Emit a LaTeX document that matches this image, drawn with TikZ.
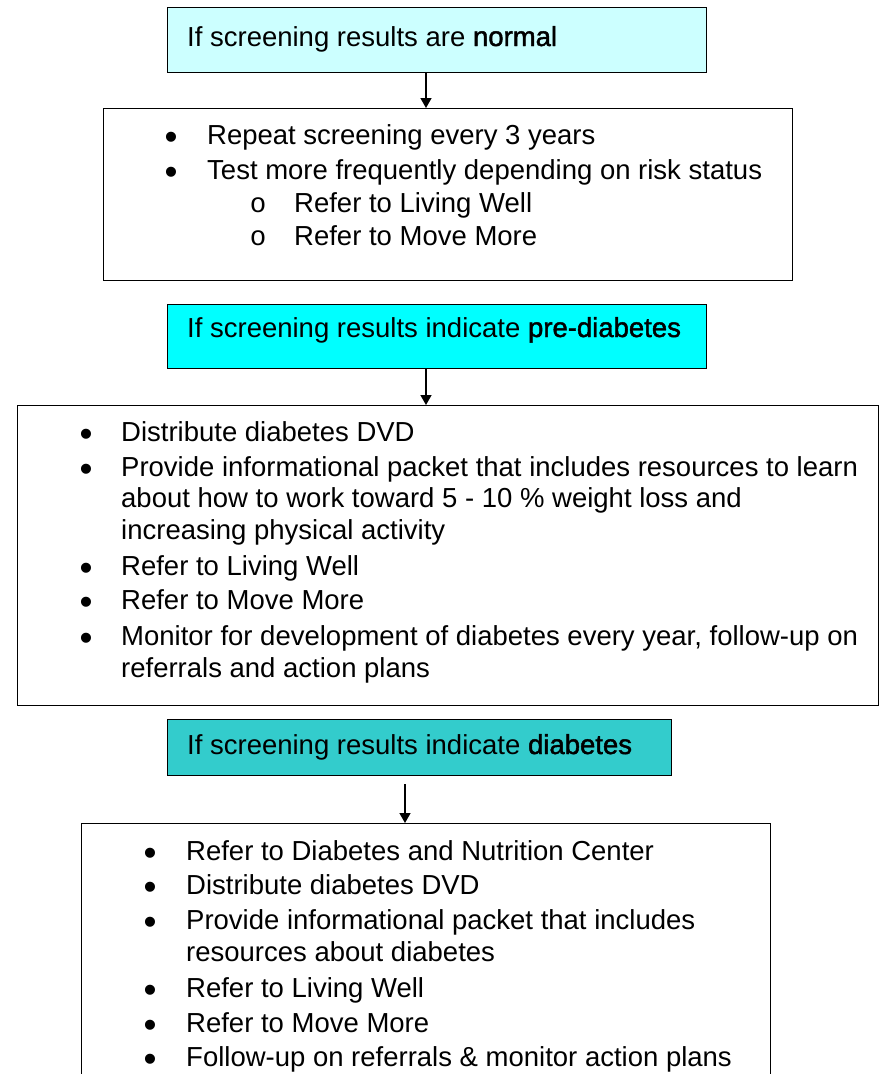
\documentclass[tikz,border=0pt]{standalone}
\usepackage{fontspec}
\setmainfont{Liberation Sans}
\newfontfamily\demi{Liberation Sans}[FakeBold=1.6]
\newfontfamily\circfont{Liberation Mono}
\usetikzlibrary{arrows.meta, positioning}
\definecolor{paleaqua}{HTML}{CCFFFF}
\definecolor{aqua}{HTML}{00FFFF}
\definecolor{tealbox}{HTML}{33CCCC}

\begin{document}
\begin{tikzpicture}[x=1pt, y=-1pt,
    box/.style={draw, line width=1.4pt, anchor=north west, inner sep=0pt},
    head/.style={box, line width=1.2pt},
    txt/.style={anchor=base west, inner sep=0pt, font=\fontsize{27.5}{32}\selectfont},
    dot/.style={anchor=base, inner sep=0pt, yshift=-5pt, font=\fontsize{37}{37}\selectfont},
    ring/.style={anchor=base, inner sep=0pt, font=\circfont\fontsize{27.5}{32}\selectfont},
    arrow/.style={draw, line width=1.4pt, -{Triangle[length=10pt, width=11pt]}}
]
    \useasboundingbox (0,0) rectangle (879,1074);
    \clip (0,0) rectangle (879,1074);

    % normal
    \node[head, fill=paleaqua, minimum width=539pt, minimum height=65pt] (normal) at (167,7) {};
    \node[txt] (normaltxt) at (187,46) {If screening results are {\demi normal}};
    \node[box, minimum width=689pt, minimum height=172pt] (normalbox) at (103,108) {};
    \node[dot] (n1) at (171,144) {\textbullet};
    \node[txt] (n1t) at (207,144) {Repeat screening every 3 years};
    \node[dot] (n2) at (171,179) {\textbullet};
    \node[txt] (n2t) at (207,179) {Test more frequently depending on risk status};
    \node[ring] (n3) at (258,212) {o};
    \node[txt] (n3t) at (294,212) {Refer to Living Well};
    \node[ring] (n4) at (258,245) {o};
    \node[txt] (n4t) at (294,245) {Refer to Move More};

    % pre-diabetes
    \node[head, fill=aqua, minimum width=539pt, minimum height=64pt] (pre) at (167,304) {};
    \node[txt] (pretxt) at (187,337) {If screening results indicate {\demi pre-diabetes}};
    \node[box, minimum width=861pt, minimum height=300pt] (prebox) at (17,405) {};
    \node[dot] (p1) at (86,441) {\textbullet};
    \node[txt] (p1t) at (121,441) {Distribute diabetes DVD};
    \node[dot] (p2) at (86,476) {\textbullet};
    \node[txt] (p2t) at (121,476) {Provide informational packet that includes resources to learn};
    \node[txt] (p2u) at (121,507) {about how to work toward 5 - 10 \% weight loss and};
    \node[txt] (p2v) at (121,539) {increasing physical activity};
    \node[dot] (p3) at (86,575) {\textbullet};
    \node[txt] (p3t) at (121,575) {Refer to Living Well};
    \node[dot] (p4) at (86,609) {\textbullet};
    \node[txt] (p4t) at (121,609) {Refer to Move More};
    \node[dot] (p5) at (86,645) {\textbullet};
    \node[txt] (p5t) at (121,645) {Monitor for development of diabetes every year, follow-up on};
    \node[txt] (p5u) at (121,677) {referrals and action plans};

    % diabetes
    \node[head, fill=tealbox, minimum width=504pt, minimum height=56pt] (diab) at (167,719) {};
    \node[txt] (diabtxt) at (187,754) {If screening results indicate {\demi diabetes}};
    \node[box, minimum width=689pt, minimum height=280pt] (diabbox) at (81,823) {};
    \node[dot] (d1) at (150,860) {\textbullet};
    \node[txt] (d1t) at (186,860) {Refer to Diabetes and Nutrition Center};
    \node[dot] (d2) at (150,894) {\textbullet};
    \node[txt] (d2t) at (186,894) {Distribute diabetes DVD};
    \node[dot] (d3) at (150,929) {\textbullet};
    \node[txt] (d3t) at (186,929) {Provide informational packet that includes};
    \node[txt] (d3u) at (186,961) {resources about diabetes};
    \node[dot] (d4) at (150,997) {\textbullet};
    \node[txt] (d4t) at (186,997) {Refer to Living Well};
    \node[dot] (d5) at (150,1032) {\textbullet};
    \node[txt] (d5t) at (186,1032) {Refer to Move More};
    \node[dot] (d6) at (150,1066) {\textbullet};
    \node[txt] (d6t) at (186,1066) {Follow-up on referrals \& monitor action plans};

    % arrows
    \coordinate (a1) at (426,0);
    \coordinate (a3) at (405,0);
    \draw[arrow] (a1 |- normal.south) -- (a1 |- normalbox.north);
    \draw[arrow] (a1 |- pre.south) -- (a1 |- prebox.north);
    \draw[arrow] ([yshift=-8pt]a3 |- diab.south) -- (a3 |- diabbox.north);
\end{tikzpicture}
\end{document}
